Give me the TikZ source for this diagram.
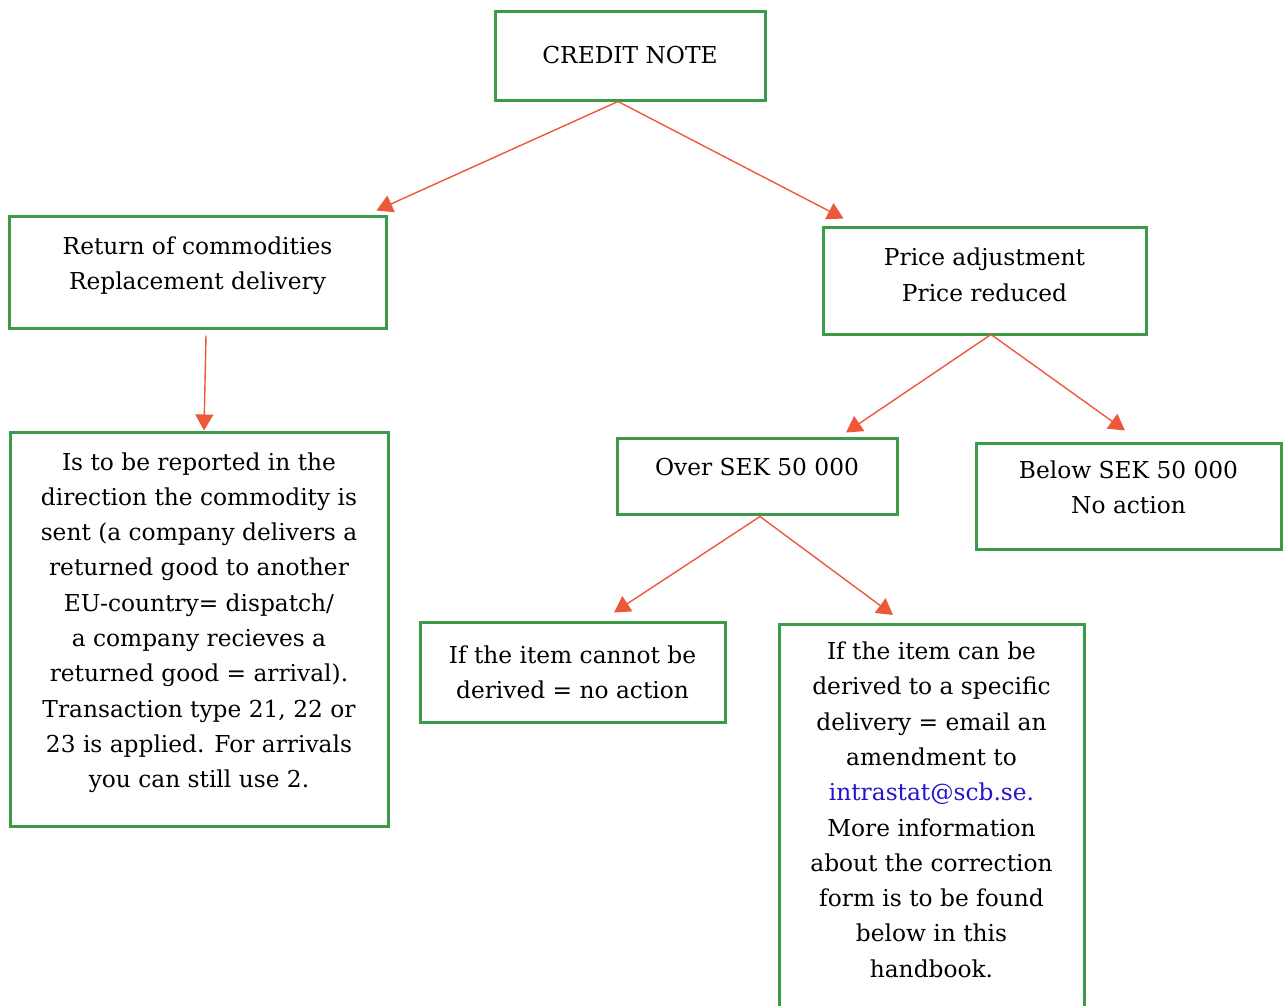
\documentclass[tikz,border=0pt]{standalone}
\usepackage{fontspec}
\setmainfont{DejaVu Serif}
\usetikzlibrary{arrows.meta,calc}
\definecolor{boxgreen}{RGB}{60,155,72}
\definecolor{arrowred}{RGB}{238,88,58}
\definecolor{linkblue}{RGB}{36,20,205}
\tikzstyle{box}=[draw=boxgreen, line width=3pt, align=center, inner sep=0pt,
  font=\fontsize{23.3}{35.3}\selectfont]
\tikzstyle{link}=[arrowred, line width=1.4pt, -{Triangle[length=16pt,width=18pt]}]
\newcommand\lowpad{\rule[-18pt]{0pt}{18pt}}

\begin{document}
\begin{tikzpicture}[x=1pt,y=-1pt]
    \useasboundingbox (0,0) rectangle (1284,1005);

    % Top
    \node[box, minimum width=270, minimum height=89] (credit) at (630,55.5) {CREDIT NOTE};

    % Second row
    \node[box, minimum width=377, minimum height=112] (ret) at (197.5,272)
      {Return of commodities\\Replacement delivery\lowpad};
    \node[box, minimum width=323, minimum height=107] (price) at (984.5,280.5)
      {Price adjustment\\Price reduced\rule[-12pt]{0pt}{12pt}};

    % Third row
    \node[box, minimum width=378, minimum height=394] (isrep) at (199,629)
      {Is to be reported in the\\direction the commodity is\\sent (a company delivers a\\returned good to another\\EU-country= dispatch/\\a company recieves a\\returned good = arrival).\\Transaction type 21, 22 or\\23 is applied. For arrivals\\you can still use 2.\lowpad};
    \node[box, minimum width=280, minimum height=76] (over) at (757,476)
      {Over SEK 50 000\lowpad};
    \node[box, minimum width=305, minimum height=106] (below) at (1128.5,496)
      {Below SEK 50 000\\No action\lowpad};

    % Fourth row
    \node[box, minimum width=305, minimum height=100] (cannot) at (572.5,672)
      {If the item cannot be\\derived = no action};
    \node[box, minimum width=305, minimum height=388, anchor=north] (can) at (931.5,623)
      {If the item can be\\derived to a specific\\delivery = email an\\amendment to\\\textcolor{linkblue}{intrastat@scb.se.}\\More information\\about the correction\\form is to be found\\below in this\\handbook.\lowpad};

    % Arrows
    \draw[link] ($(credit.south)+(-12,0)$) -- ($(ret.north east)+(-11,-4)$);
    \draw[link] ($(credit.south)+(-12,0)$) -- ($(price.north west)+(22,-7)$);
    \draw[link] ($(ret.south)+(8.5,6)$) -- ($(isrep.north)+(5,0)$);
    \draw[link] ($(price.south)+(6.5,-1)$) -- ($(over.north)+(89,-4)$);
    \draw[link] ($(price.south)+(6.5,-1)$) -- ($(below.north)+(-3.5,-11)$);
    \draw[link] ($(over.south)+(3,1)$) -- ($(cannot.north)+(41.5,-8)$);
    \draw[link] ($(over.south)+(3,1)$) -- ($(can.north)+(-38.5,-8)$);

\end{tikzpicture}
\end{document}
